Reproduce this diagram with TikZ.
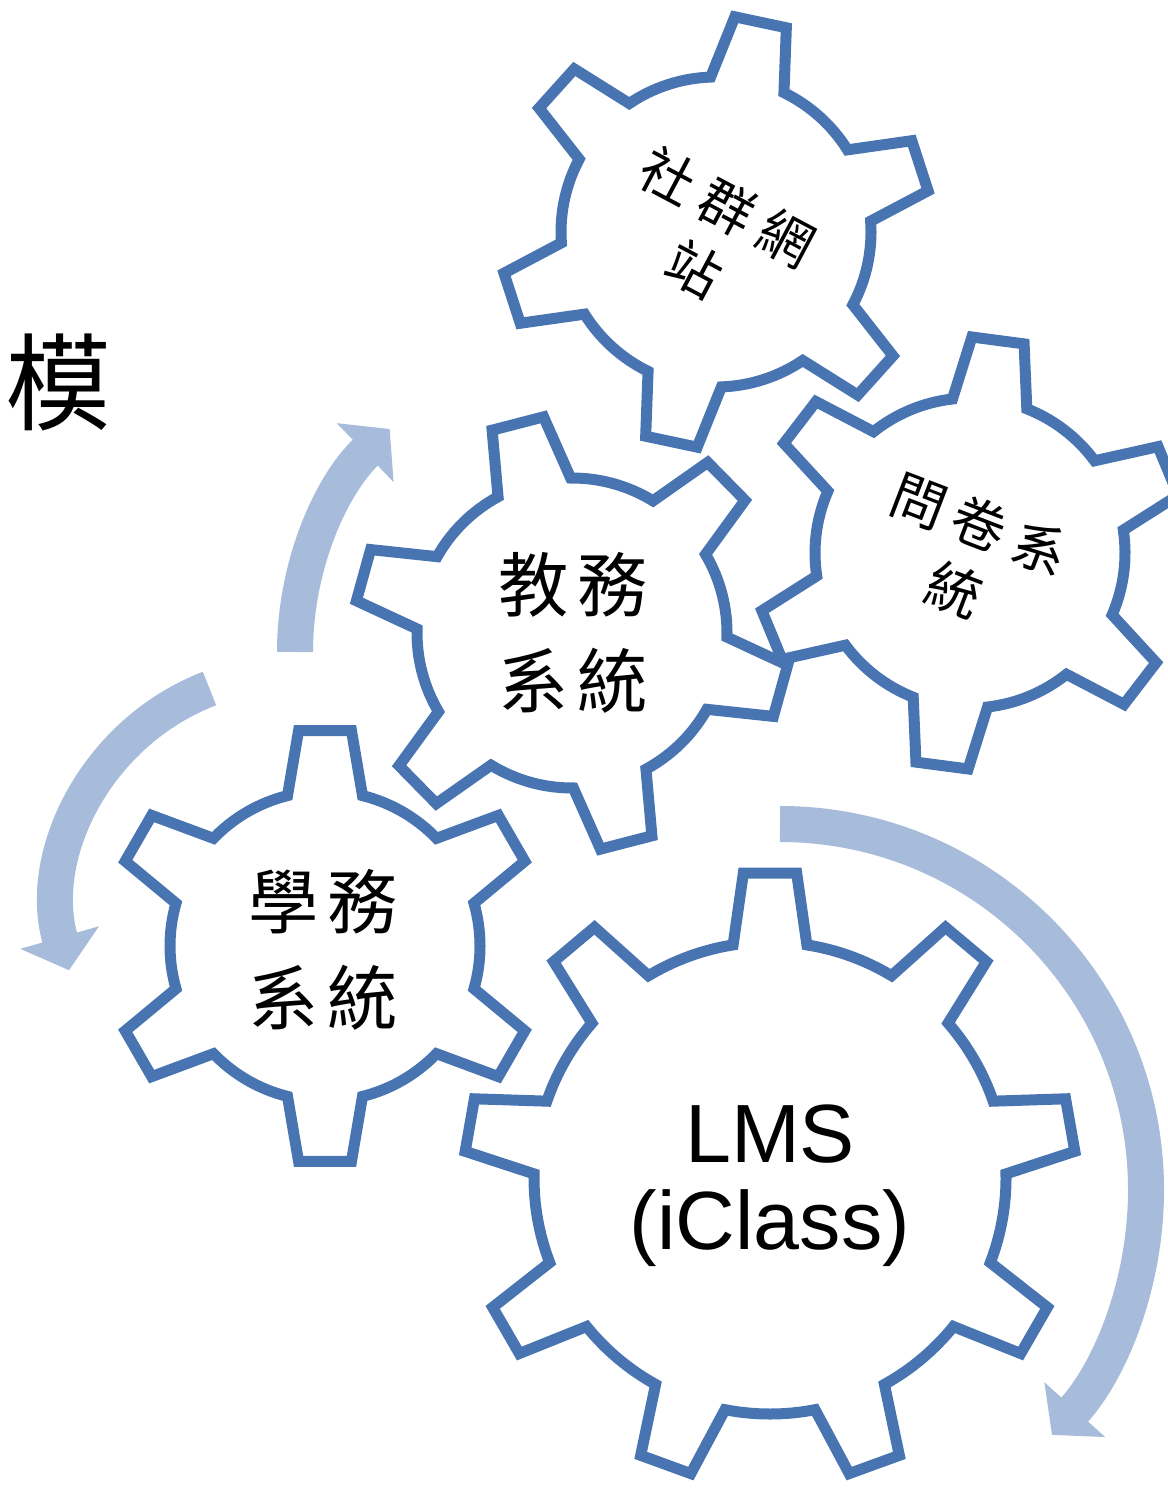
\documentclass[tikz,border=0pt]{standalone}
\usepackage{fontspec}
\setmainfont{Liberation Sans}
\newfontfamily\cjk{Noto Sans CJK TC}
\usetikzlibrary{arrows.meta}
\definecolor{gearblue}{RGB}{72,117,178}
\definecolor{flowblue}{RGB}{167,187,219}
\tikzset{
    gear/.style = {draw=gearblue, line width=0.11cm, fill=white},
    flow/.style = {draw=flowblue, line width=0.36cm, -{Triangle[width=0.8cm,length=0.34cm]}},
    cn/.style = {font=\cjk\fontsize{20pt}{27.5pt}\selectfont, align=center, inner sep=0pt},
    cnsmall/.style = {font=\cjk\fontsize{15.5pt}{20pt}\selectfont, align=center, inner sep=0pt},
    lat/.style = {font=\fontsize{23.5pt}{24.7pt}\selectfont, align=center, inner sep=0pt}
}
% centre, teeth, first tooth, inner r, outer r, base half angle, tip half angle
\newcommand{\drawcog}[7]{%
  \pgfmathsetmacro{\cogstep}{360/#2}
  \draw[gear, shift={#1}] ({#3-#6}:#4)
    foreach \k [evaluate=\k as \ang using {#3+(\k-1)*\cogstep}] in {1,...,#2} {
      -- ({\ang-#7}:#5) -- ({\ang+#7}:#5) -- ({\ang+#6}:#4)
      arc[start angle={\ang+#6}, end angle={\ang+\cogstep-#6}, radius=#4]
    } -- cycle;
}

\begin{document}
\begin{tikzpicture}[x=0.01cm, y=0.01cm]
    \useasboundingbox (0,0) rectangle (1168,-1489);

    \node[font=\cjk\fontsize{30pt}{30pt}\selectfont, inner sep=0pt] (mo) at (58,-382) {模};

    \coordinate (flowA) at (295,-652);
    \coordinate (flowB) at (209.5,-688.5);
    \coordinate (flowC) at (780,-824);
    \draw[flow] (flowA) arc[start angle=180, end angle=134, radius=310];
    \draw[flow] (flowB) arc[start angle=111, end angle=196, radius=233];
    \draw[flow] (flowC) arc[start angle=90, end angle=-42, radius=366];

    \drawcog{(716,-232)}{6}{18}{155}{216}{14}{7}
    \drawcog{(970,-553)}{6}{22.5}{155}{216}{14}{7}
    \drawcog{(572,-633)}{6}{44.5}{155}{218}{14}{7}
    \drawcog{(325,-946)}{6}{30}{155}{217}{14}{7}
    \drawcog{(770,-1178)}{9}{90}{236}{306}{9}{5}

    \node[cnsmall, rotate=-28] (social) at (711,-238) {社\hspace{3.5pt}群\hspace{3.5pt}網\\站};
    \node[cnsmall, rotate=-21] (survey) at (967,-557) {問\hspace{3pt}卷\hspace{3pt}系\\統};
    \node[cn] (academic) at (573,-633) {教\hspace{2.5pt}務\\系\hspace{2.5pt}統};
    \node[cn] (student) at (323,-950) {學\hspace{2.5pt}務\\系\hspace{2.5pt}統};
    \node[lat] (lms) at (770,-1186) {LMS\\(iClass)};
\end{tikzpicture}
\end{document}
